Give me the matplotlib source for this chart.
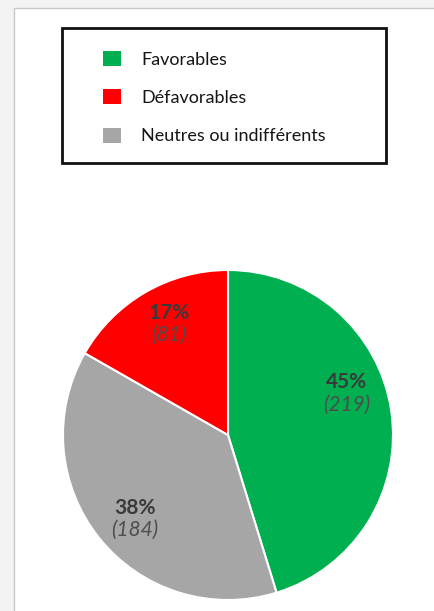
import numpy as np
import matplotlib.pyplot as plt
from matplotlib.patches import Rectangle, Patch

# data
categories = ['Favorables', 'Défavorables', 'Neutres ou indifférents']
counts = [219, 81, 184]
percents = [45, 17, 38]
colors = ['#00b050', '#ff0000', '#a6a6a6']

# pie order (clockwise from the top): favorables, neutres, défavorables
pie_order = [0, 2, 1]
# small angular nudge of each label away from the wedge middle (degrees)
label_nudge = {0: 10.5, 1: -2, 2: 3.5}

W, H = 435, 611
plt.rcParams['font.family'] = ['Lato', 'DejaVu Sans']

fig = plt.figure(figsize=(W / 100, H / 100), dpi=100)
fig.patch.set_facecolor('#f3f3f3')


def px(x, y):
    # pixel coords (from top-left) to figure fraction
    return x / W, 1 - y / H


# white page panel (behind everything)
fig.patches.append(Rectangle(px(14, H + 2), (W - 14 + 5) / W, (H - 8 + 2) / H,
                             transform=fig.transFigure, facecolor='white',
                             edgecolor='#c8c8c8', linewidth=1, zorder=-5))

# legend box
x0, y0 = px(62, 163)
fig.patches.append(Rectangle((x0, y0), (386 - 62) / W, (163 - 28) / H,
                             transform=fig.transFigure, facecolor='none',
                             edgecolor='#111111', linewidth=2, zorder=2))

handles = [Patch(facecolor=c, edgecolor='none') for c in colors]
fig.legend(handles, categories, loc='upper left', bbox_to_anchor=px(103, 51),
           frameon=False, fontsize=13, borderpad=0, borderaxespad=0,
           handlelength=1.0, handleheight=0.9, handletextpad=1.1,
           labelspacing=1.2, labelcolor='#151515')

# pie
l, b = px(63, 600)
ax = fig.add_axes([l, b, 330 / W, 330 / H])
vals = [counts[i] for i in pie_order]
wedges, _ = ax.pie(vals, colors=[colors[i] for i in pie_order], startangle=90,
                   counterclock=False, radius=1.0,
                   wedgeprops=dict(edgecolor='white', linewidth=1.5))
ax.set_xlim(-1, 1)
ax.set_ylim(-1, 1)
ax.set_aspect('equal')
ax.axis('off')

for w, i in zip(wedges, pie_order):
    ang = np.deg2rad((w.theta1 + w.theta2) / 2 + label_nudge[i])
    r = 0.76
    x, y = r * np.cos(ang), r * np.sin(ang)
    ax.text(x, y + 0.01, f'{percents[i]}%', ha='center', va='bottom',
            fontsize=15, fontweight='bold', color='#3a3a3a')
    ax.text(x, y - 0.005, f'({counts[i]})', ha='center', va='top',
            fontsize=15, fontstyle='italic', color='#4d4d4d')

fig.savefig('out.png', dpi=100, facecolor=fig.get_facecolor())
